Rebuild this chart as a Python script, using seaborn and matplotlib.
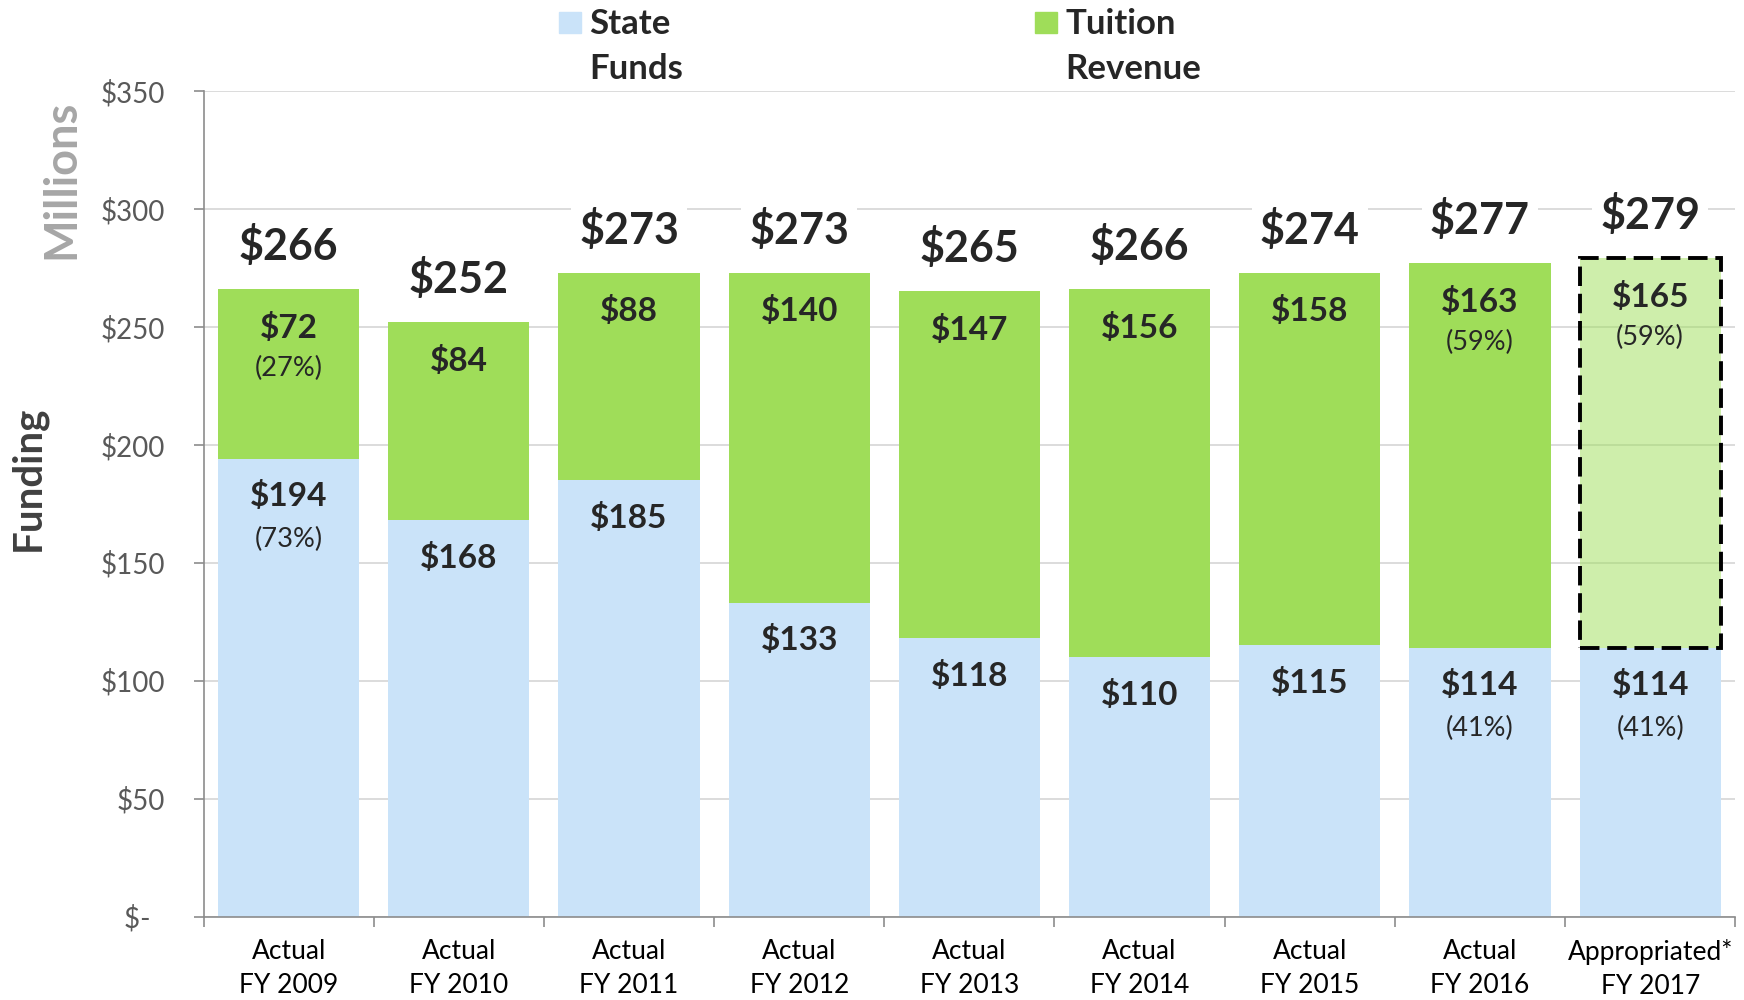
import numpy as np
import pandas as pd
import matplotlib.pyplot as plt
import seaborn as sns
from matplotlib.patches import Rectangle
from matplotlib.ticker import FuncFormatter, MultipleLocator

# data ($ millions)
years = ["Actual\nFY 2009", "Actual\nFY 2010", "Actual\nFY 2011", "Actual\nFY 2012",
         "Actual\nFY 2013", "Actual\nFY 2014", "Actual\nFY 2015", "Actual\nFY 2016",
         "Appropriated*\nFY 2017"]
state_funds = [194, 168, 185, 133, 118, 110, 115, 114, 114]
tuition = [72, 84, 88, 140, 147, 156, 158, 163, 165]
totals = [266, 252, 273, 273, 265, 266, 274, 277, 279]
state_pct = [73, None, None, None, None, None, None, 41, 41]
tuition_pct = [27, None, None, None, None, None, None, 59, 59]

blue = "#cae3f9"
green = "#9fdd59"

sns.set_style("white")
plt.rcParams["font.family"] = ["Lato", "DejaVu Sans"]

df = pd.DataFrame({"year": years, "state": state_funds, "tuition": tuition})

fig = plt.figure(figsize=(17.44, 10), dpi=100)
ax = fig.add_axes([0.1167, 0.0835, 0.8783, 0.8255])

ax.yaxis.grid(True, color="#d9d9d9", lw=1.3)
ax.set_axisbelow(True)

sns.barplot(data=df, x="year", y="state", color=blue, width=0.83,
            linewidth=0, saturation=1, ax=ax)
sns.barplot(data=df, x="year", y="tuition", bottom=state_funds, color=green,
            width=0.83, linewidth=0, saturation=1, ax=ax)

# appropriated year: lighter, dashed outline
last = ax.containers[1][-1]
last.set_facecolor((0.62, 0.87, 0.35, 0.5))
last.set_edgecolor("black")
last.set_linewidth(2.8)
last.set_linestyle((0, (5, 2)))

for i in range(len(years)):
    top = state_funds[i] + tuition[i]
    ax.annotate(f"${totals[i]}", (i, top), xytext=(0, 31), textcoords="offset points",
                ha="center", va="center", fontsize=31, fontweight="bold",
                bbox=dict(fc="white", ec="none", pad=6))
    ax.annotate(f"${tuition[i]}", (i, top), xytext=(0, -28), textcoords="offset points",
                ha="center", va="center", fontsize=24, fontweight="bold")
    ax.annotate(f"${state_funds[i]}", (i, state_funds[i]), xytext=(0, -27),
                textcoords="offset points", ha="center", va="center",
                fontsize=24, fontweight="bold")
    if tuition_pct[i] is not None:
        ax.annotate(f"({tuition_pct[i]}%)", (i, top), xytext=(0, -57),
                    textcoords="offset points", ha="center", va="center", fontsize=19.5)
    if state_pct[i] is not None:
        ax.annotate(f"({state_pct[i]}%)", (i, state_funds[i]), xytext=(0, -58),
                    textcoords="offset points", ha="center", va="center", fontsize=19.5)

ax.set_xlim(-0.5, 8.5)
ax.set_ylim(0, 350)
ax.yaxis.set_major_locator(MultipleLocator(50))
ax.yaxis.set_major_formatter(FuncFormatter(lambda v, p: "$-  " if v == 0 else f"${v:.0f}"))
ax.set_xlabel("")
ax.set_ylabel("")

sns.despine(ax=ax)
for s in ["left", "bottom"]:
    ax.spines[s].set_color("#8c8c8c")
    ax.spines[s].set_linewidth(1.2)

ax.tick_params(axis="y", length=7, width=1.2, color="#8c8c8c", direction="out",
               pad=21, labelsize=20, labelcolor="#595959", left=True)
ax.tick_params(axis="x", which="major", length=0, pad=16, labelsize=19, labelcolor="black")
for lbl in ax.get_xticklabels():
    lbl.set_linespacing(1.45)
ax.set_xticks(np.arange(-0.5, 9, 1), minor=True)
ax.tick_params(axis="x", which="minor", length=7, width=1.2, color="#8c8c8c",
               direction="out", bottom=True)

fig.text(0.035, 0.821, "Millions", rotation=90, ha="center", va="center",
         fontsize=32.5, fontweight="bold", color="#a6a6a6")
fig.text(0.016, 0.522, "Funding", rotation=90, ha="center", va="center",
         fontsize=29, fontweight="bold", color="#404040")

# legend drawn by hand so the swatch sits on the first line
for x0, col, l1, l2 in [(559, blue, "State", "Funds"), (1035, green, "Tuition", "Revenue")]:
    fig.patches.append(Rectangle((x0 / 1744, 1 - 33 / 1000), 22 / 1744, 21 / 1000,
                                 transform=fig.transFigure, color=col))
    fig.text((x0 + 30) / 1744, 1 - 24 / 1000, l1, va="center", fontsize=25, fontweight="bold")
    fig.text((x0 + 30) / 1744, 1 - 69 / 1000, l2, va="center", fontsize=25, fontweight="bold")

fig.savefig("out.png", dpi=100)
